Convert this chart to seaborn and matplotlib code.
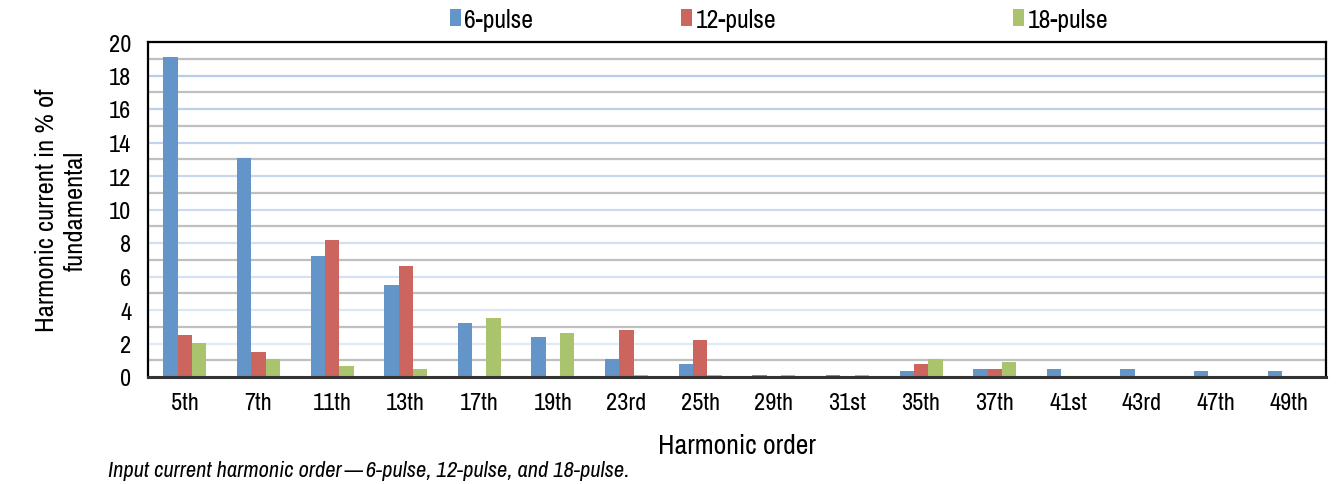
import matplotlib
matplotlib.use("Agg")
import matplotlib.pyplot as plt
from matplotlib import font_manager
from matplotlib.patches import Patch
import seaborn as sns
import pandas as pd
import numpy as np
from matplotlib.ticker import MultipleLocator

orders = ["5th", "7th", "11th", "13th", "17th", "19th", "23rd", "25th",
          "29th", "31st", "35th", "37th", "41st", "43rd", "47th", "49th"]
pulse6 = [19.1, 13.1, 7.2, 5.5, 3.2, 2.4, 1.1, 0.8, 0.1, 0.1, 0.35, 0.5, 0.5, 0.5, 0.35, 0.35]
pulse12 = [2.5, 1.5, 8.2, 6.6, 0.0, 0.0, 2.8, 2.2, 0.0, 0.0, 0.8, 0.5, 0.0, 0.0, 0.05, 0.05]
pulse18 = [2.05, 1.05, 0.65, 0.5, 3.5, 2.65, 0.1, 0.1, 0.1, 0.1, 1.05, 0.9, 0.05, 0.05, 0.05, 0.05]
series = ["6-pulse", "12-pulse", "18-pulse"]
colors = ["#6395C9", "#CC655D", "#AAC46D"]

df = pd.DataFrame({
    "order": orders * 3,
    "value": pulse6 + pulse12 + pulse18,
    "series": [series[0]] * len(orders) + [series[1]] * len(orders) + [series[2]] * len(orders),
})

sns.set_theme(style="white")

# pick a narrow/condensed family if one is installed
names = sorted({f.name for f in font_manager.fontManager.ttflist})
narrow = [n for n in names if ("Narrow" in n or "Condensed" in n)]
main_font = narrow[0] if narrow else "Roboto"
plt.rcParams["font.family"] = [main_font, "DejaVu Sans"]
plt.rcParams["text.color"] = "black"
plt.rcParams["axes.labelcolor"] = "black"

fig = plt.figure(figsize=(13.36, 4.85), dpi=100)
ax = fig.add_axes([148 / 1336, 1 - 378 / 485, (1326 - 148) / 1336, (378 - 43) / 485])

sns.barplot(data=df, x="order", y="value", hue="series", palette=colors,
            width=0.585, gap=0, ax=ax, saturation=1, linewidth=0, legend=False)

ax.set_ylim(0, 20)
ax.set_xlim(-0.5, len(orders) - 0.5)
ax.yaxis.set_major_locator(MultipleLocator(2))
ax.yaxis.set_minor_locator(MultipleLocator(1))
ax.set_axisbelow(True)
ax.grid(axis="y", which="minor", color="#BFBFBF", linewidth=1.6)
ax.grid(axis="y", which="major", color="#C5D5EC", linewidth=1.6)
glines = ax.get_ygridlines()
ticks = ax.get_yticks()
for gl, t in zip(glines, ticks):
    f = np.clip(t / 20.0, 0, 1)
    top = np.array([0.70, 0.79, 0.91])
    bot = np.array([0.90, 0.93, 0.97])
    gl.set_color(tuple(bot + (top - bot) * f))

for s in ax.spines.values():
    s.set_visible(True)
    s.set_color("black")
    s.set_linewidth(1.6)
ax.spines["bottom"].set_linewidth(2.2)
ax.spines["bottom"].set_color("#333333")

ax.tick_params(axis="both", which="both", length=0, labelsize=17.5, colors="black")
ax.tick_params(axis="x", pad=11)
ax.tick_params(axis="y", pad=12)
ax.set_ylabel("Harmonic current in % of\nfundamental", fontsize=19.2, labelpad=16, linespacing=1.28)
ax.set_xlabel("Harmonic order", fontsize=20, labelpad=14)

# legend entries placed like the reference (uneven spacing)
leg_x = [455, 686, 1018]
for name, col, x in zip(series, colors, leg_x):
    lg = fig.legend(handles=[Patch(facecolor=col, edgecolor="none")], labels=[name],
                    loc="center left", bbox_to_anchor=(x / 1336 - 0.004, 1 - 20 / 485),
                    frameon=False, fontsize=18.5, handlelength=0.45, handleheight=0.6,
                    handletextpad=0.12, borderaxespad=0, borderpad=0)

fig.text(108 / 1336, 1 - 471 / 485, "Input current harmonic order\u2009\u2014\u20096-pulse, 12-pulse, and 18-pulse.",
         fontsize=16.2, style="italic", ha="left", va="center")

fig.savefig("out.png", dpi=100)
